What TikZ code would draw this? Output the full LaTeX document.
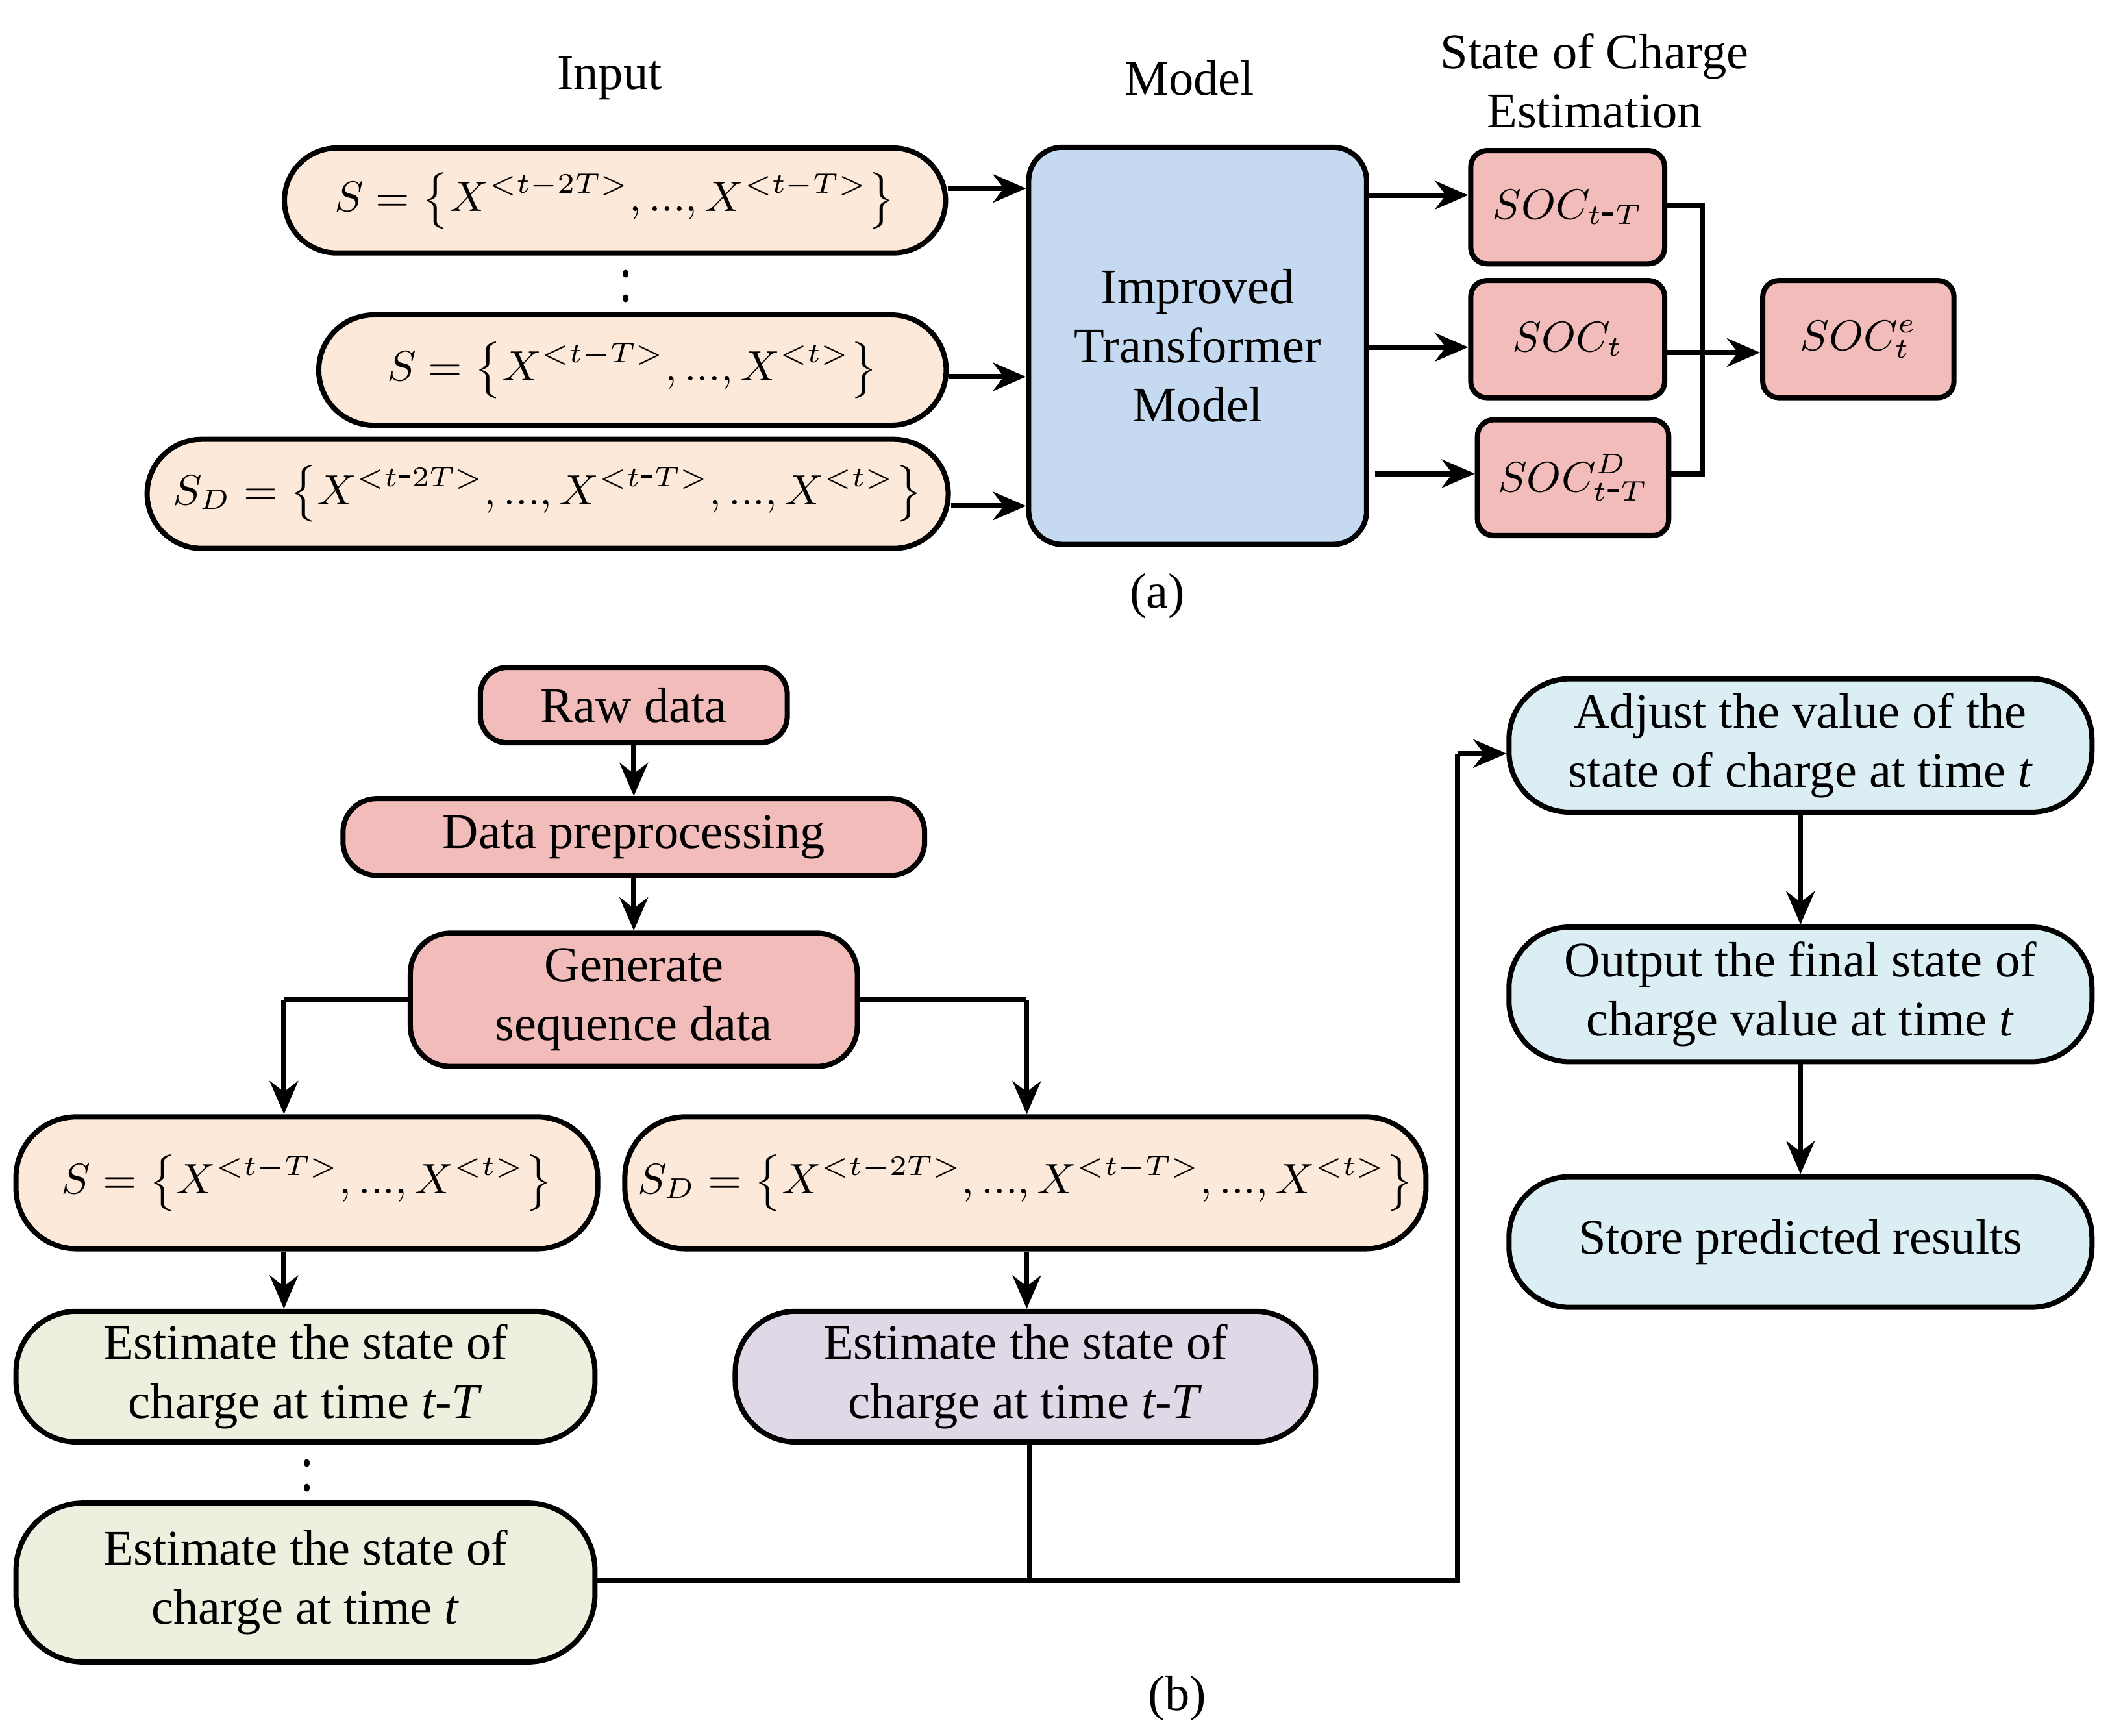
\documentclass[tikz,border=0pt]{standalone}
\usepackage{fontspec}
\setmainfont{Liberation Serif}
\usetikzlibrary{arrows.meta}
\definecolor{peach}{HTML}{FDE9D9}
\definecolor{pinkb}{HTML}{F2BCBA}
\definecolor{blueb}{HTML}{C5D9F0}
\definecolor{greenb}{HTML}{EBF1DE}
\definecolor{purpb}{HTML}{E0D7E7}
\definecolor{cyanb}{HTML}{DAEEF3}
\begin{document}
\begin{tikzpicture}[x=0.01cm,y=-0.01cm,font=\fontsize{10.5}{12.5}\selectfont,
 box/.style={draw,line width=1.1pt,inner sep=0pt,align=center,rounded corners=0.35cm},
 fbox/.style={box,fill=peach,font=\fontsize{9}{11}\selectfont},
 sbox/.style={draw,line width=1.1pt,inner sep=0pt,align=center,rounded corners=0.12cm,fill=pinkb},
 soc/.style={sbox,font=\fontsize{9}{11}\selectfont},
 arr/.style={line width=1.1pt,-{Stealth[length=7pt,width=6pt]}},
 ln/.style={line width=1.1pt}]
\useasboundingbox (0,0) rectangle (1568,1290);
% (a)
\node (tin) at (453,58) {Input};
\node (tmo) at (884,58) {Model};
\node[align=center] (tso) at (1185,60) {State of Charge\\Estimation};
\node[fbox,minimum width=4.91cm,minimum height=0.78cm,rounded corners=0.39cm] (i1) at (457,149) {$S=\left\{X^{<t-2T>},...,X^{<t-T>}\right\}$};
\node (d1) at (465,208) {\scalebox{1}[1.3]{$\vdots$}};
\node[fbox,minimum width=4.66cm,minimum height=0.82cm,rounded corners=0.41cm] (i2) at (470,275) {$S=\left\{X^{<t-T>},...,X^{<t>}\right\}$};
\node[fbox,minimum width=5.95cm,minimum height=0.81cm,rounded corners=0.405cm] (i3) at (407,367) {$S_D=\left\{X^{<t\mbox{-}2T>},...,X^{<t\mbox{-}T>},...,X^{<t>}\right\}$};
\node[box,fill=blueb,minimum width=2.51cm,minimum height=2.95cm,rounded corners=0.25cm] (m) at (890,257) {Improved\\Transformer\\Model};
\node[soc,minimum width=1.44cm,minimum height=0.84cm] (sa) at (1165,154) {$SOC_{t\mbox{-}T}$};
\node[soc,minimum width=1.44cm,minimum height=0.87cm] (sb) at (1165,252) {$SOC_t$};
\node[soc,minimum width=1.42cm,minimum height=0.86cm] (sc) at (1169,355) {$SOC^{D}_{t\mbox{-}T}$};
\node[soc,minimum width=1.42cm,minimum height=0.87cm] (se) at (1381,252) {$SOC^{e}_{t}$};
\draw[arr] (i1.east|-0,140) -- (m.west|-0,140);
\draw[arr] (i2.east|-0,280) -- (m.west|-0,280);
\draw[arr] (i3.east|-0,376) -- (m.west|-0,376);
\draw[arr] (m.east|-0,145) -- (sa.west|-0,145);
\draw[arr] (m.east|-0,258) -- (sb.west|-0,258);
\draw[arr] (1022,352) -- (sc.west|-0,352);
\coordinate (ja) at (1265,153);
\coordinate (jc) at (1265,352);
\draw[ln] (sa.east|-ja) -- (ja) -- (jc) -- (sc.east|-jc);
\draw[arr] (sb.east|-0,262) -- (se.west|-0,262);
\node (la) at (860,443) {(a)};
% (b)
\node[sbox,minimum width=2.28cm,minimum height=0.56cm,rounded corners=0.2cm] (raw) at (471,524) {Raw data};
\node[sbox,minimum width=4.32cm,minimum height=0.57cm,rounded corners=0.25cm] (pre) at (471,622) {Data preprocessing};
\node[sbox,minimum width=3.32cm,minimum height=0.99cm,rounded corners=0.3cm] (gen) at (471,743) {Generate\\sequence data};
\draw[arr] (raw) -- (pre);
\draw[arr] (pre) -- (gen);
\node[fbox,minimum width=4.32cm,minimum height=0.98cm,rounded corners=0.45cm] (bs) at (228,879) {$S=\left\{X^{<t-T>},...,X^{<t>}\right\}$};
\node[fbox,minimum width=5.95cm,minimum height=0.98cm,rounded corners=0.45cm] (bsd) at (762,879) {$S_D=\left\{X^{<t-2T>},...,X^{<t-T>},...,X^{<t>}\right\}$};
\coordinate (gl) at (211,743);
\coordinate (gr) at (763,743);
\draw[ln] (gen.west) -- (gl);
\draw[arr] (gl) -- (gl|-bs.north);
\draw[ln] (gen.east) -- (gr);
\draw[arr] (gr) -- (gr|-bsd.north);
\node[box,fill=greenb,minimum width=4.30cm,minimum height=0.97cm,rounded corners=0.45cm] (e1) at (227,1023) {Estimate the state of\\charge at time \textit{t-T}};
\node (d2) at (228,1092) {\scalebox{1}[1.3]{$\vdots$}};
\node[box,fill=greenb,minimum width=4.30cm,minimum height=1.18cm,rounded corners=0.5cm] (e2) at (227,1176) {Estimate the state of\\charge at time \textit{t}};
\node[box,fill=purpb,minimum width=4.31cm,minimum height=0.97cm,rounded corners=0.45cm] (ep) at (762,1023) {Estimate the state of\\charge at time \textit{t-T}};
\draw[arr] (bs.south-|211,0) -- (e1.north-|211,0);
\draw[arr] (bsd.south-|763,0) -- (ep.north-|763,0);
\coordinate (jm) at (765,1175);
\coordinate (jr) at (1083,1175);
\coordinate (jt) at (1083,560);
\draw[ln] (ep.south-|jm) -- (jm);
\draw[ln] (e2.east|-jm) -- (jr) -- (jt);
\node[box,fill=cyanb,minimum width=4.33cm,minimum height=0.99cm,rounded corners=0.45cm] (c1) at (1338,554) {Adjust the value of the\\state of charge at time \textit{t}};
\node[box,fill=cyanb,minimum width=4.33cm,minimum height=1.0cm,rounded corners=0.45cm] (c2) at (1338,739) {Output the final state of\\charge value at time \textit{t}};
\node[box,fill=cyanb,minimum width=4.33cm,minimum height=0.97cm,rounded corners=0.45cm] (c3) at (1338,923) {Store predicted results};
\draw[arr] (jt) -- (c1.west|-jt);
\draw[arr] (c1) -- (c2);
\draw[arr] (c2) -- (c3);
\node (lb) at (875,1262) {(b)};
\end{tikzpicture}
\end{document}
